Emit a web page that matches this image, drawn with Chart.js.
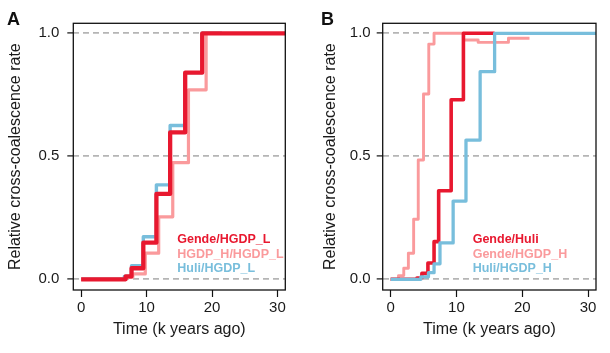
<!DOCTYPE html>
<html>
<head>
<meta charset="utf-8">
<script src="https://cdn.jsdelivr.net/npm/chart.js@4.4.1/dist/chart.umd.min.js"></script>
<style>
  html, body { margin: 0; padding: 0; background: #fff; }
  #wrap { position: relative; width: 610px; height: 353px; overflow: hidden; }
  canvas { position: absolute; top: 0; }
  .plab { position: absolute; font-family: "Liberation Sans", Arial, sans-serif; font-weight: bold; font-size: 18px; color: #111; line-height: 1; }
</style>
</head>
<body>
<div id="wrap">
  <canvas id="cA" width="305" height="353" style="left:0px"></canvas>
  <canvas id="cB" width="305" height="353" style="left:305px"></canvas>
  <div class="plab" style="left:7px; top:10px;">A</div>
  <div class="plab" style="left:321px; top:10px;">B</div>
</div>
<script>
// ---------- Data ----------
const xTicks = [0, 10, 20, 30];
const yTicks = [0, 0.5, 1.0];
const xLabelText = "Time (k years ago)";
const yLabelText = "Relative cross-coalescence rate";

// Panel A
const A_labels = ["Gende/HGDP_L", "HGDP_H/HGDP_L", "Huli/HGDP_L"];
const A_gendeHGDPL_t = [0, 6.8, 7.7, 9.5, 11.5, 13.6, 15.9, 18.5, 31.2];
const A_gendeHGDPL_v = [0, 0.012, 0.045, 0.149, 0.347, 0.597, 0.840, 1.0, 1.0];
const A_hgdpHL_t = [0, 6.8, 7.9, 9.8, 11.85, 14.0, 16.4, 19.1, 21.5];
const A_hgdpHL_v = [0, 0.008, 0.022, 0.106, 0.254, 0.474, 0.770, 1.0, 1.0];
const A_huliHGDPL_t = [0, 6.6, 7.7, 9.5, 11.5, 13.6, 15.9, 18.5, 21.5];
const A_huliHGDPL_v = [0, 0.012, 0.055, 0.173, 0.384, 0.625, 0.840, 1.0, 1.0];

// Panel B
const B_labels = ["Gende/Huli", "Gende/HGDP_H", "Huli/HGDP_H"];
const B_gendeHuli_t = [0, 4.0, 4.75, 5.67, 6.6, 7.3, 9.2, 11.06, 15.8];
const B_gendeHuli_v = [0, 0.005, 0.024, 0.066, 0.153, 0.360, 0.730, 1.0, 1.0];
const B_gendeHGDPH_t = [0, 1.2, 2.0, 2.7, 3.5, 4.2, 5.0, 5.8, 6.6, 11.1, 13.3, 17.9, 21.1];
const B_gendeHGDPH_v = [0, 0.015, 0.045, 0.106, 0.244, 0.485, 0.753, 0.956, 1.0, 0.973, 0.963, 0.980, 0.980];
const B_huliHGDPH_t = [0, 4.6, 5.75, 6.6, 7.5, 9.5, 11.45, 13.6, 15.8, 31.2];
const B_huliHGDPH_v = [0, 0.010, 0.027, 0.063, 0.148, 0.318, 0.566, 0.844, 1.0, 1.0];

// ---------- Styling ----------
const RED = "#E8182F", PINK = "#FA9A9C", BLUE = "#78BEDC";
const FONT = '"Liberation Sans", Arial, Helvetica, sans-serif';
const INK = "#1a1a1a";

function pts(t, v) { return t.map((x, i) => ({ x: x, y: v[i] })); }

const boxPlugin = {
  id: "box",
  afterDraw(chart) {
    const a = chart.chartArea, c = chart.ctx;
    c.save();
    c.strokeStyle = "#111"; c.lineWidth = 1.3;
    c.strokeRect(a.left, a.top, a.right - a.left, a.bottom - a.top);
    c.restore();
  }
};

const textLegend = {
  id: "textLegend",
  afterDraw(chart, args, opts) {
    const c = chart.ctx;
    c.save();
    c.font = "bold 12.5px " + FONT;
    c.textAlign = "left"; c.textBaseline = "middle";
    chart.data.datasets.forEach((ds, i) => {
      c.fillStyle = ds.borderColor;
      c.fillText(ds.label, opts.x, opts.y + i * opts.dy);
    });
    c.restore();
  }
};

function makeChart(id, datasets, cfg) {
  return new Chart(document.getElementById(id), {
    type: "line",
    data: { datasets: datasets },
    plugins: [boxPlugin, textLegend],
    options: {
      responsive: false,
      animation: false,
      layout: { padding: { top: 23.3, right: cfg.padRight, bottom: 0, left: 0 } },
      elements: { point: { radius: 0 }, line: { tension: 0, borderJoinStyle: "round", borderCapStyle: "butt" } },
      plugins: {
        legend: { display: false },
        tooltip: { enabled: false },
        textLegend: { x: cfg.legX, y: 240, dy: 14.2 }
      },
      scales: {
        x: {
          type: "linear", min: -1.2, max: 31.2,
          afterBuildTicks: s => { s.ticks = xTicks.map(v => ({ value: v })); },
          afterFit: s => { s.height = 63; },
          ticks: { font: { family: FONT, size: 15 }, color: INK, padding: 2, maxRotation: 0,
                   callback: v => String(v) },
          grid: { drawOnChartArea: false, drawTicks: true, tickLength: 7, tickColor: "#111", tickWidth: 1.2 },
          border: { display: false },
          title: { display: true, text: xLabelText, font: { family: FONT, size: 16 }, color: INK,
                   padding: { top: 0, bottom: 13.4 } }
        },
        y: {
          type: "linear", min: -0.0435, max: 1.0406,
          afterBuildTicks: s => { s.ticks = yTicks.map(v => ({ value: v })); },
          afterFit: s => { s.width = cfg.yWidth; },
          ticks: { font: { family: FONT, size: 15 }, color: INK, padding: cfg.yTickPad,
                   callback: v => Number(v).toFixed(1) },
          grid: { drawOnChartArea: true, drawTicks: true, tickLength: 6, color: "#b5b5b5", lineWidth: 1.8,
                  tickColor: "#111", tickWidth: 1.2 },
          border: { display: false, dash: [6, 4] },
          title: { display: true, text: yLabelText, font: { family: FONT, size: 16 }, color: INK,
                   padding: { top: cfg.yTitlePad, bottom: 0 } }
        }
      }
    }
  });
}

makeChart("cA", [
  { label: A_labels[0], data: pts(A_gendeHGDPL_t, A_gendeHGDPL_v), borderColor: RED, borderWidth: 4.3, stepped: true, order: 0 },
  { label: A_labels[1], data: pts(A_hgdpHL_t, A_hgdpHL_v), borderColor: PINK, borderWidth: 3.2, stepped: true, order: 1 },
  { label: A_labels[2], data: pts(A_huliHGDPL_t, A_huliHGDPL_v), borderColor: BLUE, borderWidth: 3.4, stepped: true, order: 2 }
], { padRight: 19.7, yWidth: 73.3, yTickPad: 8, yTitlePad: 6.4, legX: 177.3 });

makeChart("cB", [
  { label: B_labels[0], data: pts(B_gendeHuli_t, B_gendeHuli_v), borderColor: RED, borderWidth: 3.6, stepped: true, order: 1 },
  { label: B_labels[1], data: pts(B_gendeHGDPH_t, B_gendeHGDPH_v), borderColor: PINK, borderWidth: 2.9, stepped: true, order: 2 },
  { label: B_labels[2], data: pts(B_huliHGDPH_t, B_huliHGDPH_v), borderColor: BLUE, borderWidth: 3.3, stepped: true, order: 0 }
], { padRight: 14, yWidth: 77.7, yTickPad: 6, yTitlePad: 16.4, legX: 167.7 });
</script>
</body>
</html>
